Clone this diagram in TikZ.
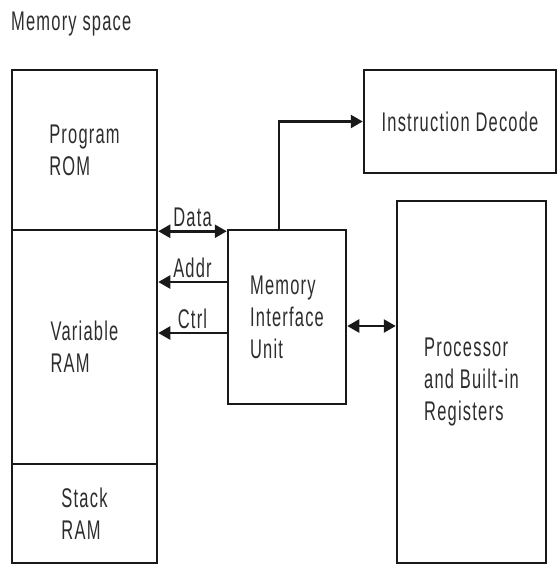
\documentclass[tikz,border=0pt]{standalone}
\usepackage{fontspec}
\setmainfont{Liberation Sans}[FakeStretch=0.61, LetterSpace=4.5]
\usepackage{tikz}
\usetikzlibrary{arrows.meta, positioning}
\definecolor{linedark}{RGB}{25, 25, 25}
\definecolor{textdark}{RGB}{45, 45, 45}

\tikzset{
  block/.style={draw=linedark, line width=2.5pt, rectangle, align=left, text=textdark},
  busarrow/.style={draw=linedark, line width=2.5pt, -{Triangle[length=12pt, width=13pt]}},
  busboth/.style={draw=linedark, line width=2.5pt, {Triangle[length=12pt, width=13pt]}-{Triangle[length=12pt, width=13pt]}},
  buslabel/.style={text=textdark}
}

\begin{document}
\begin{tikzpicture}[x=1pt, y=-1pt, every node/.style={font=\fontsize{27}{32}\selectfont}]
    \useasboundingbox (0,0) rectangle (558,565);

    % Title
    \node[anchor=base west, inner sep=0pt, text=textdark] (title) at (11,30) {Memory space};

    % Memory space column
    \node[block, minimum width=145pt, minimum height=160pt] (progrom) at (84.5,150) {Program\\ROM};
    \node[block, minimum width=145pt, minimum height=234pt] (varram) at (84.5,347) {Variable\\RAM};
    \node[block, minimum width=145pt, minimum height=99pt] (stackram) at (84.5,513.5) {Stack\\RAM};

    % Interface and processor
    \node[block, minimum width=118pt, minimum height=174pt] (miu) at (287,317) {Memory\\Interface\\Unit};
    \node[block, minimum width=192pt, minimum height=103pt] (idec) at (460,121.5) {Instruction Decode};
    \node[block, minimum width=149pt, minimum height=362pt] (proc) at (471.5,382) {Processor\\and Built-in\\Registers};

    % Buses
    \draw[busboth] (progrom.south east) -- node[buslabel, above] (datalbl) {Data} (progrom.south east -| miu.west);
    \draw[busarrow] (miu.west |- 0,282) -- node[buslabel, above] (addrlbl) {Addr} (varram.east |- 0,282);
    \draw[busarrow] (miu.west |- 0,333) -- node[buslabel, above] (ctrllbl) {Ctrl} (varram.east |- 0,333);
    \draw[busboth] (miu.east |- 0,326) -- (proc.west |- 0,326);
    \draw[busarrow] ([xshift=-8pt]miu.north) |- (idec.west);
\end{tikzpicture}
\end{document}
